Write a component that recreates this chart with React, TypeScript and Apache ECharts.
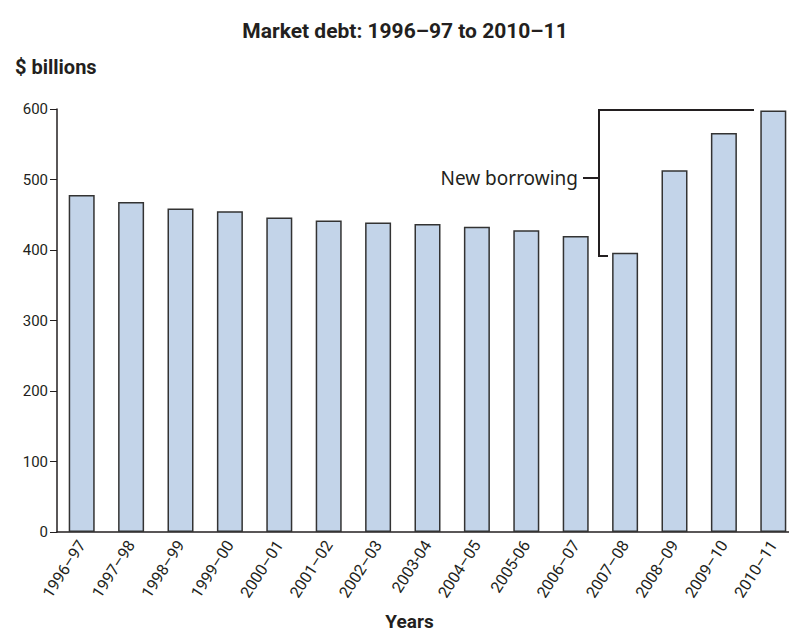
import React, { useEffect, useRef } from "react";
import * as echarts from "echarts";

const categories = [
  "1996–97", "1997–98", "1998–99", "1999–00", "2000–01", "2001–02", "2002–03",
  "2003-04", "2004–05", "2005-06", "2006–07", "2007–08", "2008–09", "2009–10", "2010–11",
];
const marketDebt = [478, 468, 459, 455, 446, 442, 439, 437, 433, 428, 420, 396, 513, 566, 598];
const yTicks = [0, 100, 200, 300, 400, 500, 600];

const FONT = "Roboto, 'Liberation Sans', sans-serif";

export default function App() {
  const ref = useRef<HTMLDivElement>(null);
  useEffect(() => {
    if (!ref.current) return;
    const chart = echarts.init(ref.current, null, { renderer: "svg" });
    chart.setOption({
      animation: false,
      backgroundColor: "#ffffff",
      title: [
        {
          text: "Market debt: 1996–97 to 2010–11",
          left: 400,
          textAlign: "center",
          top: 15,
          textStyle: { fontFamily: FONT, fontWeight: "bold", fontSize: 21, color: "#231f20" },
        },
        {
          text: "$ billions",
          left: 10,
          top: 52,
          textStyle: { fontFamily: FONT, fontWeight: "bold", fontSize: 20, color: "#231f20" },
        },
      ],
      grid: { left: 57, top: 109, bottom: 98, right: 2, containLabel: false },
      xAxis: {
        type: "category",
        data: categories,
        name: "Years",
        nameLocation: "middle",
        nameGap: 80,
        nameTextStyle: { fontFamily: FONT, fontWeight: "bold", fontSize: 19, color: "#231f20", padding: [0, 36, 0, 0] },
        axisLine: { lineStyle: { color: "#231f20", width: 1.5 } },
        axisTick: { show: false },
        axisLabel: {
          rotate: 57,
          fontFamily: FONT,
          fontSize: 16,
          color: "#231f20",
          margin: 10,
          interval: 0,
        },
      },
      yAxis: {
        type: "value",
        min: 0,
        max: 600,
        interval: 100,
        axisLine: { show: true, lineStyle: { color: "#231f20", width: 1.5 } },
        axisTick: { show: true, length: 7, lineStyle: { color: "#231f20", width: 1 } },
        splitLine: { show: false },
        axisLabel: {
          fontFamily: FONT,
          fontSize: 15,
          color: "#231f20",
          margin: 9,
          formatter: (v: number) => (yTicks.includes(v) ? String(v) : ""),
        },
      },
      series: [
        {
          type: "bar",
          data: marketDebt,
          barWidth: 26,
          itemStyle: { color: "#c3d4e9", borderColor: "#333333", borderWidth: 1.5 },
        },
      ],
      graphic: [
        {
          type: "polyline",
          shape: { points: [[754, 110], [599, 110], [599, 256], [608, 256]] },
          style: { stroke: "#231f20", lineWidth: 2, fill: "none" },
        },
        {
          type: "line",
          shape: { x1: 583, y1: 178, x2: 598, y2: 178 },
          style: { stroke: "#231f20", lineWidth: 2 },
        },
        {
          type: "text",
          x: 578,
          y: 178,
          style: {
            text: "New borrowing",
            align: "right",
            verticalAlign: "middle",
            fontFamily: "'Noto Sans', 'Liberation Sans', sans-serif",
            fontSize: 19,
            fill: "#231f20",
          },
        },
      ],
    });
    return () => chart.dispose();
  }, []);
  return (
    <div style={{ width: 789, height: 636, overflow: "hidden", position: "absolute", left: 0, top: 0 }}>
      <div ref={ref} style={{ width: 800, height: 636 }} />
    </div>
  );
}
